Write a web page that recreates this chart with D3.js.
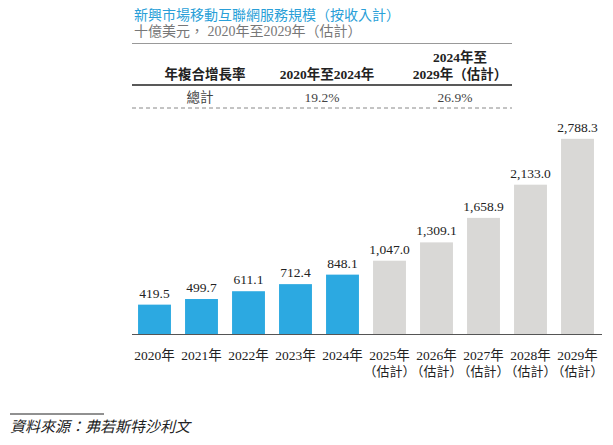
<!DOCTYPE html>
<html>
<head>
<meta charset="utf-8">
<script src="https://cdn.jsdelivr.net/npm/d3@7"></script>
<style>
  body { margin: 0; background: #fff; }
  text { font-family: "Liberation Serif", "Noto Sans CJK TC", serif; }
  .halt { font-feature-settings: "halt"; }
</style>
</head>
<body>
<div id="chart"></div>
<script>
var years = ["2020年", "2021年", "2022年", "2023年", "2024年", "2025年", "2026年", "2027年", "2028年", "2029年"];
var estimated = [false, false, false, false, false, true, true, true, true, true];
var values = [419.5, 499.7, 611.1, 712.4, 848.1, 1047.0, 1309.1, 1658.9, 2133.0, 2788.3];
var cagrHeaders = ["年複合增長率", "2020年至2024年", "2024年至|2029年（估計）"];
var cagrRow = ["總計", "19.2%", "26.9%"];

var svgWidth = 613;
var svgHeight = 445;

var svg = d3.select("#chart")
  .append("svg")
  .attr("width", svgWidth)
  .attr("height", svgHeight);

var data = years.map(function(y, i) {
  return { year: y, value: values[i], est: estimated[i] };
});

// scales
var xScale = d3.scaleBand()
  .domain(years)
  .range([131, 601])
  .paddingInner(0.3)
  .paddingOuter(0.15);

var yScale = d3.scaleLinear()
  .domain([0, 3000])
  .range([334, 124]);

// title
svg.append("text")
  .attr("x", 134)
  .attr("y", 20)
  .attr("fill", "#2a9fd8")
  .style("font-size", "14px")
  .text("新興市場移動互聯網服務規模（按收入計）");

svg.append("text")
  .attr("x", 134)
  .attr("y", 36)
  .attr("fill", "#777")
  .style("font-size", "14px")
  .text("十億美元， 2020年至2029年（估計）");

svg.append("line")
  .attr("x1", 132).attr("x2", 512)
  .attr("y1", 43.5).attr("y2", 43.5)
  .attr("stroke", "#999")
  .attr("stroke-width", 1);

// CAGR table
var colX = [205, 327, 460];
cagrHeaders.forEach(function(h, i) {
  var lines = h.split("|");
  lines.forEach(function(l, j) {
    svg.append("text")
      .attr("x", colX[i])
      .attr("y", 79 - (lines.length - 1 - j) * 17)
      .attr("text-anchor", "middle")
      .attr("fill", "#222")
      .style("font-size", "13.5px")
      .style("font-weight", "bold")
      .text(l);
  });
});

svg.append("line")
  .attr("x1", 132).attr("x2", 512)
  .attr("y1", 85).attr("y2", 85)
  .attr("stroke", "#222")
  .attr("stroke-width", 1.5);

cagrRow.forEach(function(c, i) {
  svg.append("text")
    .attr("x", i === 0 ? 200 : colX[i] - 5)
    .attr("y", 102)
    .attr("text-anchor", "middle")
    .attr("fill", "#444")
    .style("font-size", "13.5px")
    .text(c);
});

svg.append("line")
  .attr("x1", 132).attr("x2", 512)
  .attr("y1", 108).attr("y2", 108)
  .attr("stroke", "#888")
  .attr("stroke-width", 1)
  .attr("stroke-dasharray", "4,3");

// bars
svg.selectAll("rect.bar")
  .data(data)
  .enter()
  .append("rect")
  .attr("class", "bar")
  .attr("x", d => xScale(d.year))
  .attr("y", d => yScale(d.value))
  .attr("width", xScale.bandwidth())
  .attr("height", d => yScale(0) - yScale(d.value))
  .attr("fill", d => d.est ? "#d9d8d6" : "#2ca9e1");

// value labels
var fmt = d3.format(",.1f");
svg.selectAll("text.val")
  .data(data)
  .enter()
  .append("text")
  .attr("class", "val")
  .attr("x", d => xScale(d.year) + xScale.bandwidth() / 2)
  .attr("y", d => yScale(d.value) - 7)
  .attr("text-anchor", "middle")
  .attr("fill", "#222")
  .style("font-size", "13.5px")
  .text(d => fmt(d.value));

// x axis
var xAxis = svg.append("g")
  .attr("transform", "translate(0, 334)")
  .call(d3.axisBottom(xScale).tickSize(0).tickPadding(0).tickFormat(""));
xAxis.select(".domain")
  .attr("d", "M132,0.5H602")
  .attr("stroke", "#555")
  .attr("stroke-width", 1.2);

svg.selectAll("text.xlab")
  .data(data)
  .enter()
  .append("text")
  .attr("class", "xlab")
  .attr("x", d => xScale(d.year) + xScale.bandwidth() / 2)
  .attr("y", 360)
  .attr("text-anchor", "middle")
  .attr("fill", "#222")
  .style("font-size", "13.5px")
  .text(d => d.year);

svg.selectAll("text.xest")
  .data(data.filter(d => d.est))
  .enter()
  .append("text")
  .attr("class", "xest halt")
  .attr("x", d => xScale(d.year) + xScale.bandwidth() / 2)
  .attr("y", 376)
  .attr("text-anchor", "middle")
  .attr("fill", "#222")
  .style("font-size", "13px")
  .text("（估計）");

// source
svg.append("line")
  .attr("x1", 10).attr("x2", 104)
  .attr("y1", 414).attr("y2", 414)
  .attr("stroke", "#222")
  .attr("stroke-width", 1);

svg.append("text")
  .attr("x", 10)
  .attr("y", 432)
  .attr("fill", "#222")
  .style("font-size", "15px")
  .style("font-style", "italic")
  .text("資料來源：弗若斯特沙利文");
</script>
</body>
</html>
